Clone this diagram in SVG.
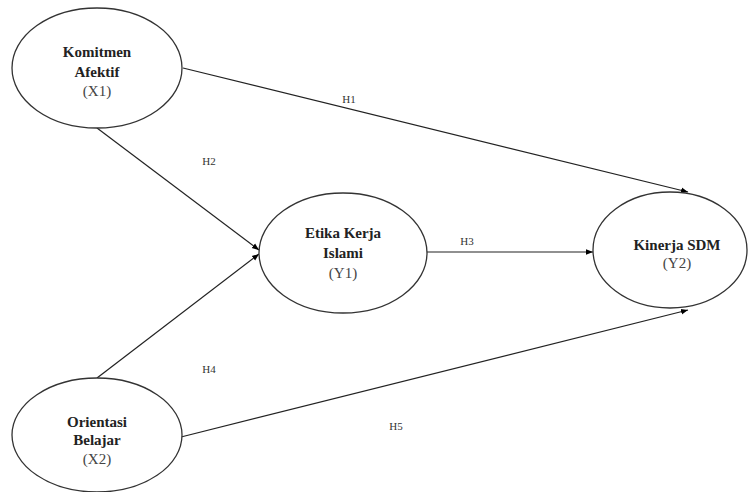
<svg xmlns="http://www.w3.org/2000/svg" width="748" height="492" viewBox="0 0 748 492">
<defs>
<marker id="arr" viewBox="0 0 10 10" refX="10" refY="5" markerWidth="7" markerHeight="7" orient="auto" markerUnits="userSpaceOnUse">
<path d="M0,1 L10,5 L0,9 z" fill="#000"/>
</marker>
<style>
.n{fill:#fff;stroke:#333;stroke-width:1.3}
.t{font-family:"Liberation Serif",serif;font-size:15px;font-weight:bold;fill:#222;text-anchor:middle}
.s{font-family:"Liberation Serif",serif;font-size:15px;fill:#444;text-anchor:middle}
.l{font-family:"Liberation Serif",serif;font-size:11px;fill:#333;text-anchor:middle}
.c{stroke:#222;stroke-width:1.2;fill:none;marker-end:url(#arr)}
</style>
</defs>
<rect width="748" height="492" fill="#fff"/>
<g id="connectors">
<line class="c" x1="183" y1="68" x2="688" y2="192"/>
<line class="c" x1="97" y1="128" x2="259" y2="250"/>
<line class="c" x1="427" y1="252" x2="593" y2="252"/>
<line class="c" x1="97" y1="378" x2="259" y2="254"/>
<line class="c" x1="181" y1="437" x2="688" y2="310"/>
<text class="l" x="349" y="103">H1</text>
<text class="l" x="209" y="165">H2</text>
<text class="l" x="467" y="245">H3</text>
<text class="l" x="209" y="373">H4</text>
<text class="l" x="396" y="430">H5</text>
</g>
<g id="X1">
<ellipse class="n" cx="97" cy="68" rx="85" ry="60"/>
<text class="t" x="97" y="57">Komitmen</text>
<text class="t" x="97" y="77">Afektif</text>
<text class="s" x="97" y="96">(X1)</text>
</g>
<g id="Y1">
<ellipse class="n" cx="343" cy="253" rx="84" ry="60"/>
<text class="t" x="343" y="238">Etika Kerja</text>
<text class="t" x="343" y="258">Islami</text>
<text class="s" x="343" y="278">(Y1)</text>
</g>
<g id="Y2">
<ellipse class="n" cx="670" cy="250" rx="77" ry="58"/>
<text class="t" x="677" y="250">Kinerja SDM</text>
<text class="s" x="677" y="268">(Y2)</text>
</g>
<g id="X2">
<ellipse class="n" cx="97" cy="435" rx="85" ry="57"/>
<text class="t" x="97" y="427">Orientasi</text>
<text class="t" x="97" y="445">Belajar</text>
<text class="s" x="97" y="464">(X2)</text>
</g>
</svg>
